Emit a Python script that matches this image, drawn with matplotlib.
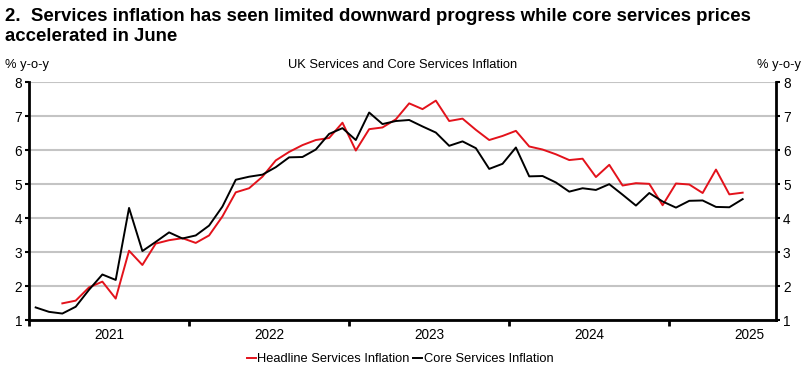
import matplotlib
matplotlib.use("Agg")
import matplotlib.pyplot as plt
import numpy as np

plt.rcParams['font.family'] = ['Liberation Sans', 'DejaVu Sans']

# Monthly data, Jan 2021 .. Jun 2025
months = np.arange(54)  # 0 = Jan 2021
core = [1.37, 1.24, 1.19, 1.39, 1.89, 2.34, 2.18, 4.30, 3.03, 3.30, 3.58, 3.40,
        3.49, 3.78, 4.34, 5.13, 5.22, 5.28, 5.50, 5.79, 5.80, 6.02, 6.48, 6.65,
        6.30, 7.11, 6.77, 6.86, 6.89, 6.70, 6.52, 6.13, 6.26, 6.06, 5.45, 5.60,
        6.08, 5.23, 5.24, 5.05, 4.78, 4.88, 4.83, 5.00, 4.69, 4.37, 4.74, 4.49,
        4.31, 4.51, 4.52, 4.33, 4.32, 4.56]
headline = [np.nan, np.nan, 1.49, 1.57, 1.96, 2.13, 1.63, 3.04, 2.62, 3.25, 3.35, 3.41,
            3.27, 3.49, 4.05, 4.76, 4.88, 5.22, 5.70, 5.95, 6.15, 6.30, 6.36, 6.81,
            5.99, 6.62, 6.67, 6.91, 7.38, 7.21, 7.46, 6.86, 6.93, 6.60, 6.30, 6.42,
            6.57, 6.11, 6.02, 5.88, 5.71, 5.75, 5.21, 5.57, 4.96, 5.03, 5.01, 4.38,
            5.02, 4.99, 4.74, 5.43, 4.70, 4.75]
years = ['2021', '2022', '2023', '2024', '2025']
yticks = [1, 2, 3, 4, 5, 6, 7, 8]

W, H = 811, 373
fig = plt.figure(figsize=(W / 100, H / 100), dpi=100)
ax = fig.add_axes([29 / W, 1 - 320 / H, (776 - 29) / W, (320 - 82.3) / H])

red = '#e3121b'
ax.plot(months, headline, color=red, lw=1.4, label='Headline Services Inflation')
ax.plot(months, core, color='black', lw=1.4, label='Core Services Inflation')

ax.set_xlim(-0.5, 55.5)
ax.set_ylim(1, 8)
ax.set_yticks(yticks)
ax.yaxis.grid(True, color='#c4c4c4', lw=1.5)
ax.set_axisbelow(True)

# Year boundaries as ticks, labels centered on the year
ax.set_xticks([-0.5 + 12 * i for i in range(5)], minor=False)
ax.set_xticklabels([])
ax.set_xticks([5.5 + 12 * i for i in range(5)], minor=True)
ax.set_xticklabels(years, minor=True)
ax.tick_params(axis='x', which='major', direction='out', length=4, width=2)
ax.tick_params(axis='x', which='minor', length=0, labelsize=9.8, pad=6)
ax.tick_params(axis='y', which='both', direction='out', length=3, width=1.5,
               labelsize=9.8, left=True, right=True, labelleft=True, labelright=True, pad=2)

for s in ['left', 'right', 'bottom']:
    ax.spines[s].set_linewidth(2)
ax.spines['top'].set_visible(False)

fig.text(5 / W, 1 - 21 / H,
         "2.  Services inflation has seen limited downward progress while core services prices",
         fontsize=13.4, fontweight='bold', ha='left', va='baseline')
fig.text(5 / W, 1 - 41 / H, "accelerated in June",
         fontsize=13.4, fontweight='bold', ha='left', va='baseline')
fig.text(5 / W, 1 - 68 / H, '% y-o-y', fontsize=9.3, ha='left', va='baseline')
fig.text(801 / W, 1 - 68 / H, '% y-o-y', fontsize=9.3, ha='right', va='baseline')
fig.text(403 / W, 1 - 68 / H, 'UK Services and Core Services Inflation', fontsize=9.3,
         ha='center', va='baseline')

fig.legend(loc='center', bbox_to_anchor=(400 / W, 1 - 359 / H), ncol=2, frameon=False,
           handlelength=0.7, handletextpad=0.1, columnspacing=0.3, fontsize=9.3,
           borderaxespad=0)

fig.savefig('out.png', dpi=100)
